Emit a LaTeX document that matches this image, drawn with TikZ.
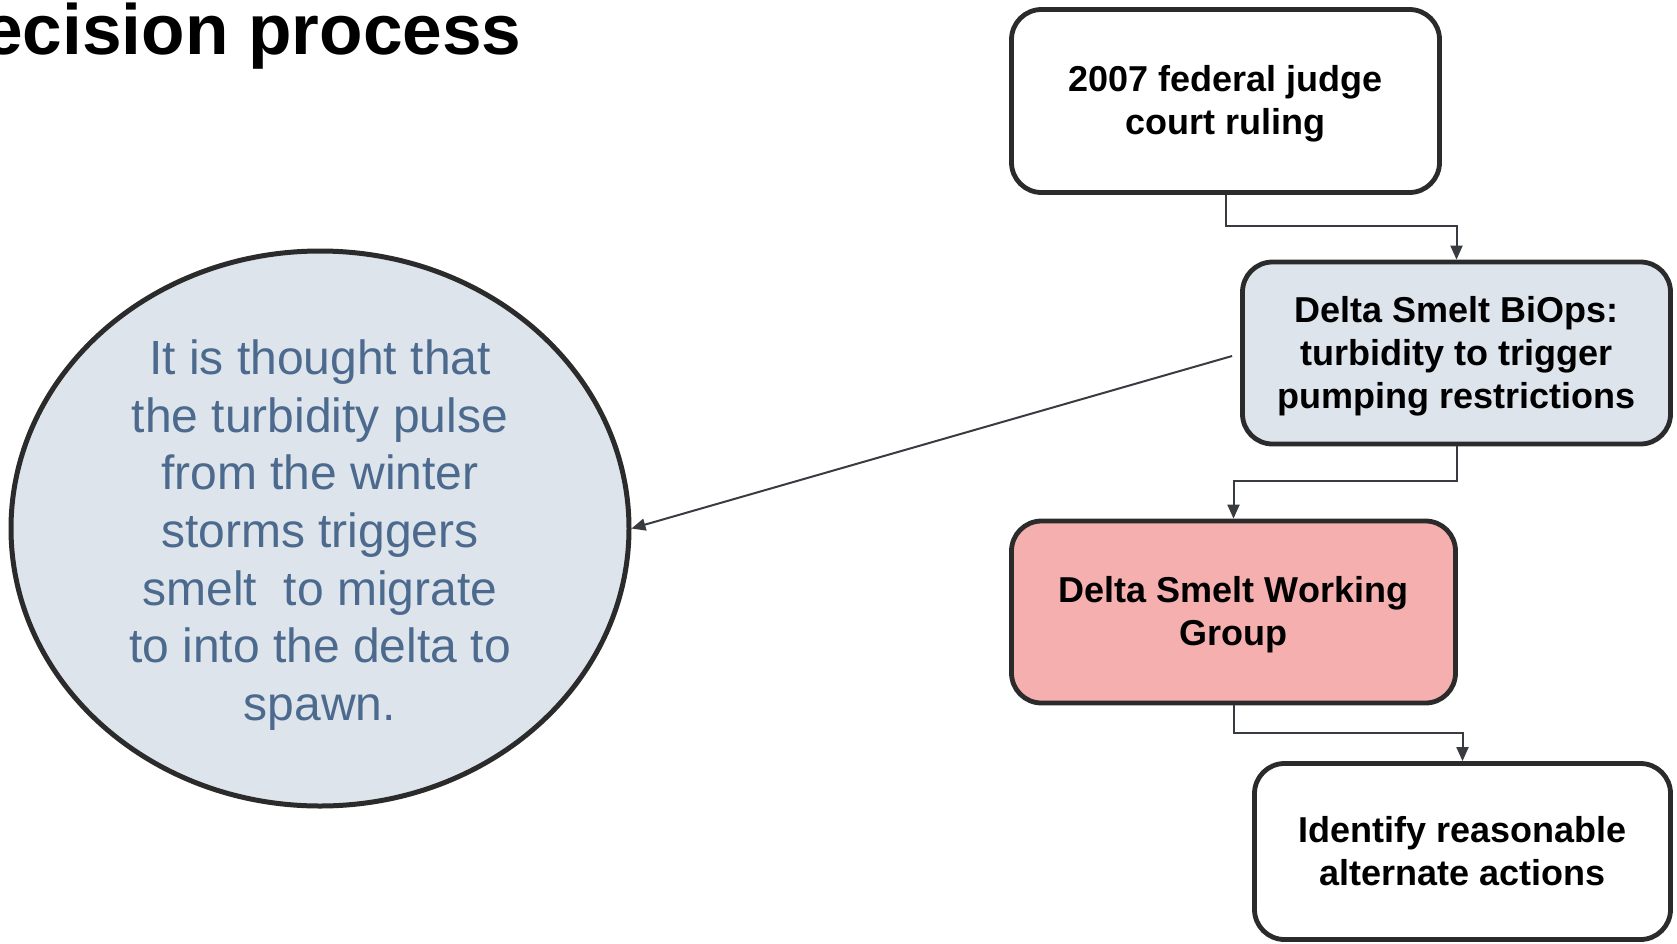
\documentclass[tikz,border=0pt]{standalone}
\usepackage{fontspec}
\setmainfont{Liberation Sans}
\usetikzlibrary{shapes.geometric,arrows.meta}
\definecolor{edge}{HTML}{2B2B2B}
\definecolor{wire}{HTML}{383C41}
\definecolor{paleblue}{HTML}{DEE4EC}
\definecolor{salmon}{HTML}{F5AFAE}
\definecolor{slate}{HTML}{4C6A8D}
% lowers a centred text block a little inside its box, keeping its nominal size
\newcommand{\boxtext}[1]{\raisebox{-1.7pt}[\height][\depth]{\begin{tabular}{@{}c@{}}#1\end{tabular}}}
\tikzset{
  procbox/.style={draw=edge, line width=2.4pt, rounded corners=15pt, fill=white,
    align=center, inner sep=0pt, font=\fontsize{18pt}{21.5pt}\selectfont\bfseries},
  conn/.style={draw=wire, line width=1pt, -{Triangle[length=7pt,width=6pt]}},
  bubble/.style={ellipse, draw=edge, line width=2.5pt, fill=paleblue, inner sep=0pt},
  bubbletext/.style={align=center, text=slate, inner sep=0pt,
    font=\fontsize{24pt}{28.8pt}\selectfont},
}
\begin{document}
\begin{tikzpicture}[x=0.5pt, y=-0.5pt]
\useasboundingbox (0,0) rectangle (1677,943);
\clip (0,0) rectangle (1677,943);

% heading
\node[anchor=base east, inner sep=0pt, font=\fontsize{35.6pt}{41pt}\selectfont\bfseries]
  (title) at (522,54) {Decision process};

% process boxes
\node[procbox, minimum width=214pt, minimum height=91.5pt] (b1) at (1225.5,101)
  {\boxtext{2007 federal judge\\court ruling}};
\node[procbox, fill=paleblue, minimum width=214pt, minimum height=91pt] (b2) at (1456.5,353)
  {\boxtext{Delta Smelt BiOps:\\turbidity to trigger\\pumping restrictions}};
\node[procbox, fill=salmon, minimum width=222pt, minimum height=91pt] (b3) at (1233.5,612)
  {\boxtext{Delta Smelt Working\\Group}};
\node[procbox, minimum width=208pt, minimum height=88pt] (b4) at (1462.5,851.5)
  {\boxtext{Identify reasonable\\alternate actions}};

% explanatory bubble
\node[bubble, minimum width=309pt, minimum height=277.5pt] (circ) at (320,528.5) {};
\node[bubbletext] (circtext) at (320,535)
  {It is thought that\\the turbidity pulse\\from the winter\\storms triggers\\smelt\ \ to migrate\\to into the delta to\\spawn.};

% connectors
\draw[conn] (b1.south) -- (b1.south |- 0,226) -| (b2.north);
\draw[conn] (b2.south) -- (b2.south |- 0,481) -| (b3.north);
\draw[conn] (b3.south) -- (b3.south |- 0,733) -| (b4.north);
\coordinate (tap) at ([xshift=-4pt,yshift=-1.5pt]b2.west);
\draw[conn] (tap) -- (circ.east);
\end{tikzpicture}
\end{document}
